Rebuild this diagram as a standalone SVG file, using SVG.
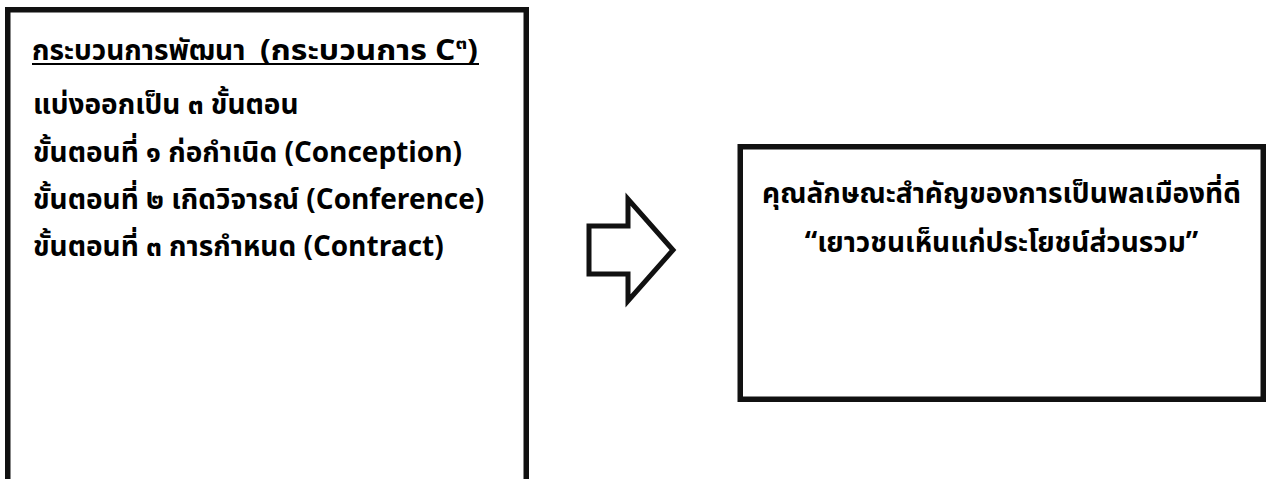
<svg xmlns="http://www.w3.org/2000/svg" width="1274" height="479" viewBox="0 0 1274 479">
<style>
.box{fill:#ffffff;stroke:#111111;stroke-width:5.5}
.t{font-family:"Noto Sans Thai","Noto Sans","DejaVu Sans",sans-serif;font-weight:bold;font-size:28px;fill:#000000}
.sup{font-size:18px}
.arrow{fill:#ffffff;stroke:#111111;stroke-width:5;stroke-linejoin:miter}
.ul{stroke:#000000;stroke-width:2}
</style>
<rect width="1274" height="479" fill="#ffffff"/>
<g id="node-process">
<rect class="box" x="7.75" y="9.75" width="518.5" height="480"/>
<text class="t" x="32" y="60">กระบวนการพัฒนา</text>
<text class="t" x="260" y="60" textLength="218" lengthAdjust="spacingAndGlyphs">(กระบวนการ C<tspan class="sup" dy="-11">๓</tspan><tspan dy="11">)</tspan></text>
<line class="ul" x1="32" y1="64" x2="479" y2="64"/>
<text class="t" x="33" y="114">แบ่งออกเป็น ๓ ขั้นตอน</text>
<text class="t" x="33" y="162">ขั้นตอนที่ ๑ ก่อกำเนิด (Conception)</text>
<text class="t" x="33" y="209">ขั้นตอนที่ ๒ เกิดวิจารณ์ (Conference)</text>
<text class="t" x="33" y="256">ขั้นตอนที่ ๓ การกำหนด (Contract)</text>
</g>
<g id="connectors">
<polygon class="arrow" points="589,226 628,226 628,199 673,250 628,301 628,274 589,274"/>
</g>
<g id="node-citizen">
<rect class="box" x="740.25" y="146.75" width="523" height="252.5"/>
<text class="t" x="1001.5" y="203" text-anchor="middle">คุณลักษณะสำคัญของการเป็นพลเมืองที่ดี</text>
<text class="t" x="1001.5" y="252" text-anchor="middle">“เยาวชนเห็นแก่ประโยชน์ส่วนรวม”</text>
</g>
</svg>
